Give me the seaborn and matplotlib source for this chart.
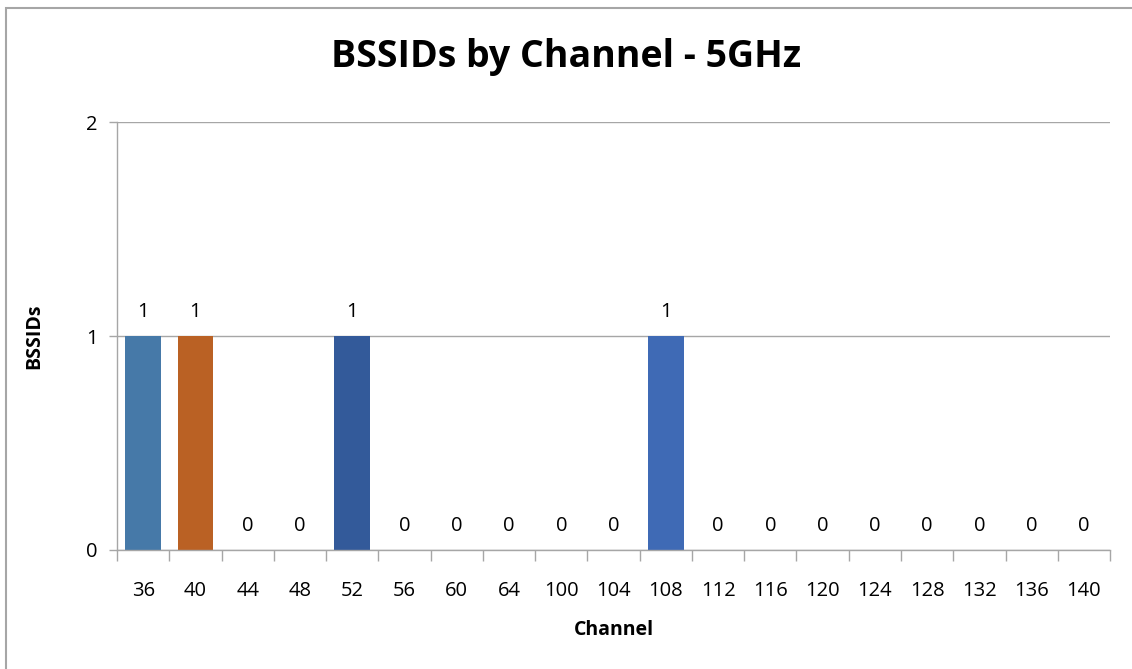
import matplotlib
matplotlib.use('Agg')
import matplotlib.pyplot as plt
import pandas as pd
import seaborn as sns
from matplotlib.patches import Rectangle

channels = ['36', '40', '44', '48', '52', '56', '60', '64', '100', '104',
            '108', '112', '116', '120', '124', '128', '132', '136', '140']
bssids = [1, 1, 0, 0, 1, 0, 0, 0, 0, 0, 1, 0, 0, 0, 0, 0, 0, 0, 0]
bar_colors = ['#4679A8', '#BA6124', '#4679A8', '#4679A8', '#335A9A', '#4679A8',
              '#4679A8', '#4679A8', '#4679A8', '#4679A8', '#3F6AB5', '#4679A8',
              '#4679A8', '#4679A8', '#4679A8', '#4679A8', '#4679A8', '#4679A8',
              '#4679A8']

df = pd.DataFrame({'channel': channels, 'bssids': bssids})

sns.set_style('white')
plt.rcParams['font.family'] = ['Open Sans', 'DejaVu Sans']
plt.rcParams['text.color'] = 'black'
plt.rcParams['axes.labelcolor'] = 'black'
plt.rcParams['xtick.color'] = 'black'
plt.rcParams['ytick.color'] = 'black'

fig = plt.figure(figsize=(11.32, 6.69), dpi=100)
ax = fig.add_axes([0.1034, 0.1779, 0.8772, 0.6397])

sns.barplot(data=df, x='channel', y='bssids', hue='channel',
            palette=dict(zip(channels, bar_colors)), legend=False,
            width=0.68, saturation=1, linewidth=0, ax=ax)

for c in ax.containers:
    ax.bar_label(c, fmt='%d', padding=10, fontsize=14.5, color='black')

ax.set_ylim(0, 2)
ax.set_xlim(-0.5, len(channels) - 0.5)
ax.set_yticks([0, 1, 2])
ax.yaxis.grid(True, color='#A6A6A6', linewidth=1)
ax.set_axisbelow(True)
for s in ['top', 'right']:
    ax.spines[s].set_visible(False)
for s in ['left', 'bottom']:
    ax.spines[s].set_color('#A6A6A6')
    ax.spines[s].set_linewidth(1)

# category separator ticks like Excel
ax.set_xticks([i - 0.5 for i in range(len(channels) + 1)], minor=True)
ax.tick_params(axis='x', which='minor', bottom=True, length=8,
               color='#A6A6A6', width=1)
ax.tick_params(axis='x', which='major', length=0, labelsize=14.5, pad=22)
ax.tick_params(axis='y', which='major', left=True, length=6,
               color='#A6A6A6', width=1, labelsize=14.5, pad=8)

ax.set_xlabel('Channel', fontsize=14, fontweight='bold', labelpad=14)
ax.set_ylabel('BSSIDs', fontsize=14, fontweight='bold', labelpad=30)

fig.text(0.5, 0.915, 'BSSIDs by Channel - 5GHz', ha='center', va='center',
         fontsize=27, fontweight='bold')

fig.patches.append(Rectangle((0.0053, -0.1), 1.2, 1.088, transform=fig.transFigure,
                             fill=False, edgecolor='#A6A6A6', linewidth=1.5))

fig.savefig('out.png', dpi=100)
